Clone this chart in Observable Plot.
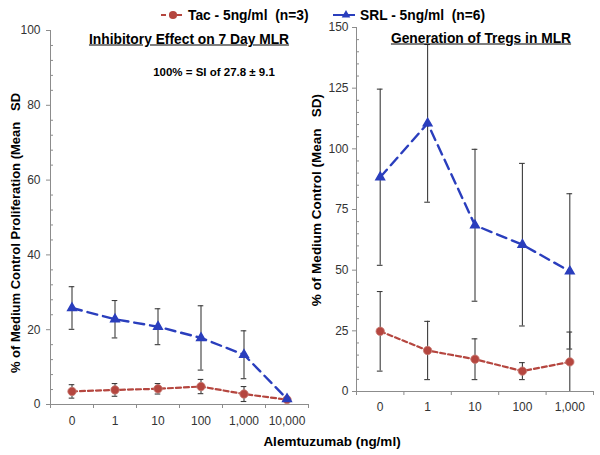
<!DOCTYPE html>
<html>
<head>
<meta charset="utf-8">
<script src="https://cdn.jsdelivr.net/npm/d3@7"></script>
<script src="https://cdn.jsdelivr.net/npm/@observablehq/plot@0.6"></script>
<style>
  html, body { margin: 0; padding: 0; background: #fff; }
  #wrap { position: relative; width: 600px; height: 455px; font-family: "Liberation Sans", Arial, sans-serif; overflow: hidden; }
  .abs { position: absolute; white-space: pre; }
  .b { font-weight: bold; color: #000; }
  #wrap svg { background: transparent; }
</style>
</head>
<body>
<div id="wrap"></div>
<script>
// ---- data ----
const catsLeft = ["0", "1", "10", "100", "1,000", "10,000"];
const tacLeft = [3.5, 3.9, 4.2, 4.8, 2.8, 1.3];
const tacLeftSD = [1.8, 1.7, 1.4, 1.9, 2.0, 0];
const srlLeft = [25.8, 22.8, 20.8, 17.8, 13.3, 1.5];
const srlLeftSD = [5.7, 5.0, 4.8, 8.6, 6.4, 0];

const catsRight = ["0", "1", "10", "100", "1,000"];
const tacRight = [24.8, 16.9, 13.3, 8.4, 12.2];
const tacRightSD = [16.4, 12.0, 8.4, 3.5, 12.3];
const srlRight = [88.3, 110.5, 68.5, 60.5, 49.5];
const srlRightSD = [36.3, 32.5, 31.3, 33.5, 32.0];

const yTicksLeft = [0, 20, 40, 60, 80, 100];
const yTicksRight = [0, 25, 50, 75, 100, 125, 150];

const series = [
  {name: "Tac - 5ng/ml  (n=3)", color: "#b5463f", symbol: "circle"},
  {name: "SRL - 5ng/ml  (n=6)", color: "#2a3ebd", symbol: "triangle"}
];

const TAC = "#b5463f", SRL = "#2a3ebd", AX = "#8c8c8c", ERR = "#3c3c3c";
const noText = () => "";

function panel(o) {
  const n = o.cats.length;
  const rows = o.cats.map((c, i) => ({i, cat: c, tac: o.tac[i], tacSD: o.tacSD[i], srl: o.srl[i], srlSD: o.srlSD[i]}));
  const step = o.yTicks[1] - o.yTicks[0];
  const minor = d3.range(0, o.yMax + 1e-9, step / 5).filter(v => !o.yTicks.some(t => Math.abs(t - v) < 1e-9));
  const unitPx = (o.width - o.ml - o.mr) / n;   // pixels per category step
  const minorLen = 3 / unitPx;
  const cap = o.cap;
  const err = (key, sdKey) => {
    const d = rows.filter(r => r[sdKey] > 0);
    return [
      Plot.ruleX(d, {x: "i", y1: r => Math.max(0, r[key] - r[sdKey]), y2: r => r[key] + r[sdKey], stroke: ERR, strokeWidth: 1.1}),
      Plot.ruleY(d, {y: r => r[key] + r[sdKey], x1: r => r.i - cap, x2: r => r.i + cap, stroke: ERR, strokeWidth: 1.1}),
      Plot.ruleY(d.filter(r => r[key] - r[sdKey] > 0), {y: r => r[key] - r[sdKey], x1: r => r.i - cap, x2: r => r.i + cap, stroke: ERR, strokeWidth: 1.1})
    ];
  };
  return Plot.plot({
    width: o.width, height: o.height,
    marginLeft: o.ml, marginRight: o.mr, marginTop: o.mt, marginBottom: o.mb,
    style: {background: "transparent", fontFamily: "Liberation Sans, Arial, sans-serif", overflow: "visible"},
    x: {type: "linear", domain: [-0.5, n - 0.5], axis: null},
    y: {domain: [0, o.yMax], axis: null},
    marks: [
      Plot.ruleY(minor, {x1: -0.5, x2: -0.5 + minorLen, stroke: AX}),
      Plot.axisY({ticks: o.yTicks, tickSize: 4, tickPadding: o.yPad, fontSize: 12, color: "#333", stroke: AX, label: null}),
      Plot.axisX({ticks: d3.range(n + 1).map(i => i - 0.5), tickSize: 4, tickFormat: noText, stroke: AX, label: null}),
      Plot.axisX({ticks: d3.range(n), tickSize: 0, tickPadding: o.xPad, tickFormat: i => o.cats[i], fontSize: 12, color: "#333", label: null}),
      Plot.ruleY([0], {stroke: AX}),
      Plot.ruleX([-0.5], {stroke: AX}),
      ...err("srl", "srlSD"),
      ...err("tac", "tacSD"),
      Plot.line(rows, {x: "i", y: "tac", stroke: TAC, strokeWidth: 2.2, strokeDasharray: "5,3"}),
      Plot.line(rows, {x: "i", y: "srl", stroke: SRL, strokeWidth: 2.4, strokeDasharray: "10,6"}),
      Plot.dot(rows, {x: "i", y: "tac", r: 4.2, fill: TAC, stroke: "#c77b74", strokeWidth: 0.8}),
      Plot.dot(rows, {x: "i", y: "srl", r: 3.2, symbol: "triangle", fill: SRL, stroke: SRL})
    ]
  });
}

const wrap = document.getElementById("wrap");

const left = panel({cats: catsLeft, tac: tacLeft, tacSD: tacLeftSD, srl: srlLeft, srlSD: srlLeftSD,
  yMax: 100, yTicks: yTicksLeft, width: 310, height: 440, ml: 50, mr: 2, mt: 30, mb: 36, xPad: 12, yPad: 6, cap: 0.065});
left.style.position = "absolute"; left.style.left = "0px"; left.style.top = "0px";
wrap.appendChild(left);

const right = panel({cats: catsRight, tac: tacRight, tacSD: tacRightSD, srl: srlRight, srlSD: srlRightSD,
  yMax: 150, yTicks: yTicksRight, width: 300, height: 440, ml: 56, mr: 7, mt: 27, mb: 49, xPad: 11, yPad: 4, cap: 0.06});
right.style.position = "absolute"; right.style.left = "300px"; right.style.top = "0px";
wrap.appendChild(right);

function addText(txt, x, y, css, anchor) {
  const d = document.createElement("div");
  d.className = "abs b";
  d.textContent = txt;
  Object.assign(d.style, css || {});
  d.style.left = x + "px"; d.style.top = y + "px";
  d.style.transform = anchor || "translate(-50%, -50%)";
  wrap.appendChild(d);
  return d;
}

// titles
addText("Inhibitory Effect on 7 Day MLR", 189, 39, {fontSize: "13.8px", textDecoration: "underline"});
addText("100% = SI of 27.8 \u00b1 9.1", 214, 72, {fontSize: "11.5px"});
addText("Generation of Tregs in MLR", 481, 38, {fontSize: "13.8px", textDecoration: "underline"});

// axis titles
addText("% of Medium Control Proliferation (Mean   SD", 15, 233, {fontSize: "13px"}, "translate(-50%, -50%) rotate(-90deg)");
addText("% of Medium Control (Mean   SD)", 316, 200, {fontSize: "13.5px"}, "translate(-50%, -50%) rotate(-90deg)");
addText("Alemtuzumab (ng/ml)", 332, 441, {fontSize: "13.5px"});

// legend
const legendPos = [{x: 161, tx: 188}, {x: 333, tx: 360}];
series.forEach((s, k) => {
  const p = legendPos[k];
  const svg = d3.create("svg").attr("width", 24).attr("height", 12)
    .style("position", "absolute").style("left", p.x + "px").style("top", "9px");
  svg.append("line").attr("x1", 0).attr("x2", 22).attr("y1", 6).attr("y2", 6)
    .attr("stroke", s.color).attr("stroke-width", 2.2).attr("stroke-dasharray", k === 0 ? "5,3" : "14,0");
  const sym = d3.symbol(s.symbol === "circle" ? d3.symbolCircle : d3.symbolTriangle, s.symbol === "circle" ? 52 : 32)();
  svg.append("path").attr("d", sym).attr("transform", `translate(${k === 0 ? 12 : 13},6)`).attr("fill", s.color);
  wrap.appendChild(svg.node());
  addText(s.name, p.tx, 15, {fontSize: "13.8px"}, "translate(0, -50%)");
});
</script>
</body>
</html>
